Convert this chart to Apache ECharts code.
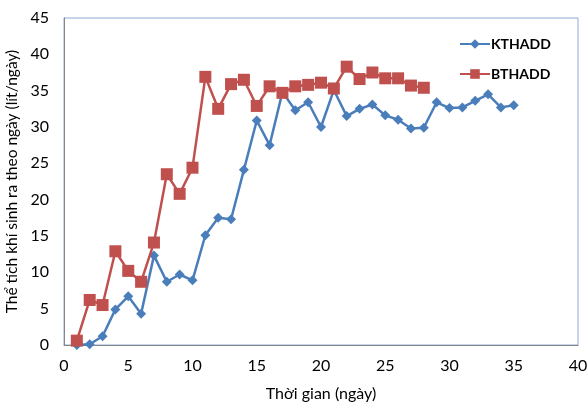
<!DOCTYPE html>
<html>
<head>
<meta charset="utf-8">
<script src="https://cdn.jsdelivr.net/npm/echarts@6/dist/echarts.min.js"></script>
<style>html,body{margin:0;padding:0;background:#fff}#c{width:588px;height:403px}</style>
</head>
<body>
<div id="c"></div>
<script>
const days = [1,2,3,4,5,6,7,8,9,10,11,12,13,14,15,16,17,18,19,20,21,22,23,24,25,26,27,28,29,30,31,32,33,34,35];
const kthadd = [0,0.1,1.2,4.9,6.7,4.3,12.3,8.7,9.7,8.9,15.1,17.5,17.3,24.1,30.9,27.5,34.8,32.3,33.4,30.0,35.1,31.5,32.5,33.1,31.6,31.0,29.8,29.9,33.4,32.6,32.7,33.6,34.5,32.7,33.0];
const bthadd = [0.6,6.2,5.5,12.9,10.2,8.7,14.1,23.5,20.8,24.4,36.9,32.5,35.9,36.5,32.9,35.6,34.7,35.6,35.8,36.1,35.3,38.3,36.6,37.5,36.7,36.7,35.7,35.4];
const seriesNames = ['KTHADD','BTHADD'];
const xTitle = 'Thời gian (ngày)';
const yTitle = 'Thể tích khí sinh ra theo ngày (lít/ngày)';

const font = 'Lato, "Open Sans", sans-serif';
const chart = echarts.init(document.getElementById('c'), null, {renderer:'canvas'});
chart.setOption({
  animation:false,
  grid:{left:64,right:10,top:18,bottom:58,show:true,borderColor:'#8eaad6',borderWidth:1,
        containLabel:false, outerBoundsMode:'none'},
  legend:{
    orient:'vertical', left:459, top:37, padding:0, itemWidth:30, itemHeight:12, itemGap:16,
    textStyle:{fontFamily:font, fontWeight:'bold', fontSize:14, color:'#000', padding:[0,0,0,-4]},
    data:seriesNames
  },
  xAxis:{
    type:'value', min:0, max:40, interval:5,
    axisLine:{show:true,lineStyle:{color:'#868686'}},
    axisTick:{show:false}, splitLine:{show:false},
    axisLabel:{fontFamily:font,fontSize:16,color:'#000',margin:13},
    name:xTitle, nameLocation:'middle', nameGap:41,
    nameTextStyle:{fontFamily:font,fontSize:16,color:'#000'}
  },
  yAxis:{
    type:'value', min:0, max:45, interval:5,
    axisLine:{show:true,lineStyle:{color:'#868686'}},
    axisTick:{show:false}, splitLine:{show:false},
    axisLabel:{fontFamily:font,fontSize:16,color:'#000',margin:15},
    name:yTitle, nameLocation:'middle', nameGap:35,
    nameTextStyle:{fontFamily:font,fontSize:15.5,color:'#000'}
  },
  series:[
    {name:seriesNames[0], type:'line', data:days.map((d,i)=>[d,kthadd[i]]),
     symbol:'diamond', symbolSize:10, lineStyle:{color:'#4a7ebb',width:2.5},
     itemStyle:{color:'#4a7ebb'}, z:2},
    {name:seriesNames[1], type:'line', data:bthadd.map((v,i)=>[days[i],v]),
     symbol:'rect', symbolSize:12, lineStyle:{color:'#c0504d',width:2.5},
     itemStyle:{color:'#c0504d'}, z:3}
  ]
});
</script>
</body>
</html>
